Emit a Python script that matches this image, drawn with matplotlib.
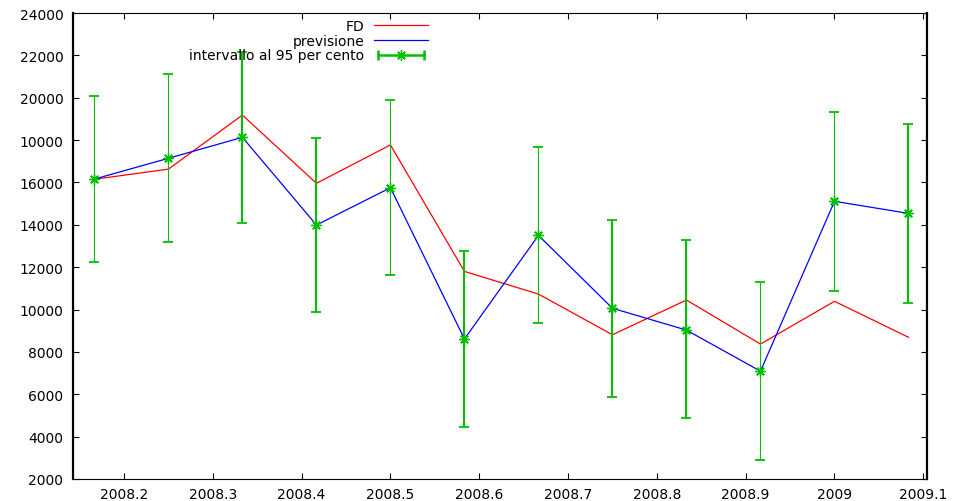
import matplotlib
matplotlib.use("Agg")
import matplotlib.pyplot as plt
from matplotlib.lines import Line2D
from matplotlib.legend_handler import HandlerLine2D

# monthly observations, Feb 2008 .. Jan 2009 (year + month/12)
months = [2, 3, 4, 5, 6, 7, 8, 9, 10, 11, 12, 13]
fd = [16150, 16630, 19180, 15960, 17770, 11800, 10730, 8810, 10450, 8370, 10390, 8690]
previsione = [16160, 17140, 18130, 13990, 15750, 8610, 13500, 10060, 9030, 7090, 15110, 14540]
ci_low = [12230, 13200, 14090, 9870, 11650, 4440, 9370, 5860, 4870, 2900, 10880, 10310]
ci_high = [20100, 21140, 22170, 18110, 19880, 12750, 17660, 14210, 13270, 11290, 19310, 18750]

x_ticks = [2008.2, 2008.3, 2008.4, 2008.5, 2008.6, 2008.7, 2008.8, 2008.9, 2009.0, 2009.1]
x_labels = ["2008.2", "2008.3", "2008.4", "2008.5", "2008.6", "2008.7",
            "2008.8", "2008.9", "2009", "2009.1"]
y_ticks = [2000, 4000, 6000, 8000, 10000, 12000, 14000, 16000, 18000, 20000, 22000, 24000]
y_labels = ["2000", "4000", "6000", "8000", "10000", "12000", "14000", "16000",
            "10000", "20000", "22000", "24000"]

label_fd = "FD"
label_prev = "previsione"
label_ci = "intervallo al 95 per cento"

# per-bar stroke widths of the interval bars
bar_widths = [0.8, 0.8, 1.5, 1.5, 0.8, 1.5, 0.8, 1.5, 1.5, 0.8, 0.8, 1.5]

RED = "#ff0000"
BLUE = "#0000ff"
GREEN = "#00c000"

plt.rcParams["font.family"] = ["DejaVu Sans"]
plt.rcParams["font.size"] = 10

W, H = 954, 502
fig = plt.figure(figsize=(W / 100, H / 100), dpi=100)
ax = fig.add_axes([73 / W, 22 / H, 854 / W, 466 / H])

xs = [2008 + m / 12 for m in months]

ax.plot(xs, fd, color=RED, lw=0.9, zorder=2)
ax.plot(xs, previsione, color=BLUE, lw=0.9, zorder=3)

yerr = [[p - lo for p, lo in zip(previsione, ci_low)],
        [hi - p for p, hi in zip(previsione, ci_high)]]
star = (8, 2, 0)
eb = ax.errorbar(xs, previsione, yerr=yerr, fmt="none", ecolor=GREEN,
                 elinewidth=1.0, capsize=3.5, capthick=1.3, zorder=4)
eb.lines[2][0].set_linewidth(bar_widths)
ax.plot(xs, previsione, ls="none", marker=star, ms=7.5, mew=1.0,
        color=GREEN, zorder=5)

ax.set_xlim(2008.14257, 2009.10417)
ax.set_ylim(2000, 24000)
ax.set_xticks(x_ticks)
ax.set_xticklabels(x_labels)
ax.set_yticks(y_ticks)
ax.set_yticklabels(y_labels)

ax.tick_params(direction="in", length=4.5, width=0.8, top=True, right=True,
               labeltop=False, labelright=False, color="black")
ax.tick_params(axis="x", pad=6)
ax.tick_params(axis="y", pad=7)

for side, lw in (("left", 1.6), ("right", 1.6), ("top", 0.8), ("bottom", 0.8)):
    ax.spines[side].set_linewidth(lw)
    ax.spines[side].set_color("black")

# legend: text on the left, sample on the right
h_fd = Line2D([], [], color=RED, lw=0.9)
h_prev = Line2D([], [], color=BLUE, lw=0.9)
h_ci_bar = Line2D([], [], color=GREEN, lw=1.8, marker="|", ms=7, mew=1.8)
h_ci_star = Line2D([], [], color=GREEN, ls="none", marker=star, ms=7.5, mew=1.0)
leg = ax.legend([h_fd, h_prev, (h_ci_bar, h_ci_star)],
                [label_fd, label_prev, label_ci],
                handler_map={h_ci_bar: HandlerLine2D(numpoints=2),
                             h_ci_star: HandlerLine2D(numpoints=1)},
                loc="upper right", bbox_to_anchor=(428 / W, 1 - 20 / H),
                bbox_transform=fig.transFigure, frameon=False,
                markerfirst=False, handlelength=3.9, handletextpad=0.7,
                labelspacing=0.05, borderaxespad=0, borderpad=0)
leg.set_zorder(6)

fig.savefig("out.png", dpi=100, facecolor="white")
